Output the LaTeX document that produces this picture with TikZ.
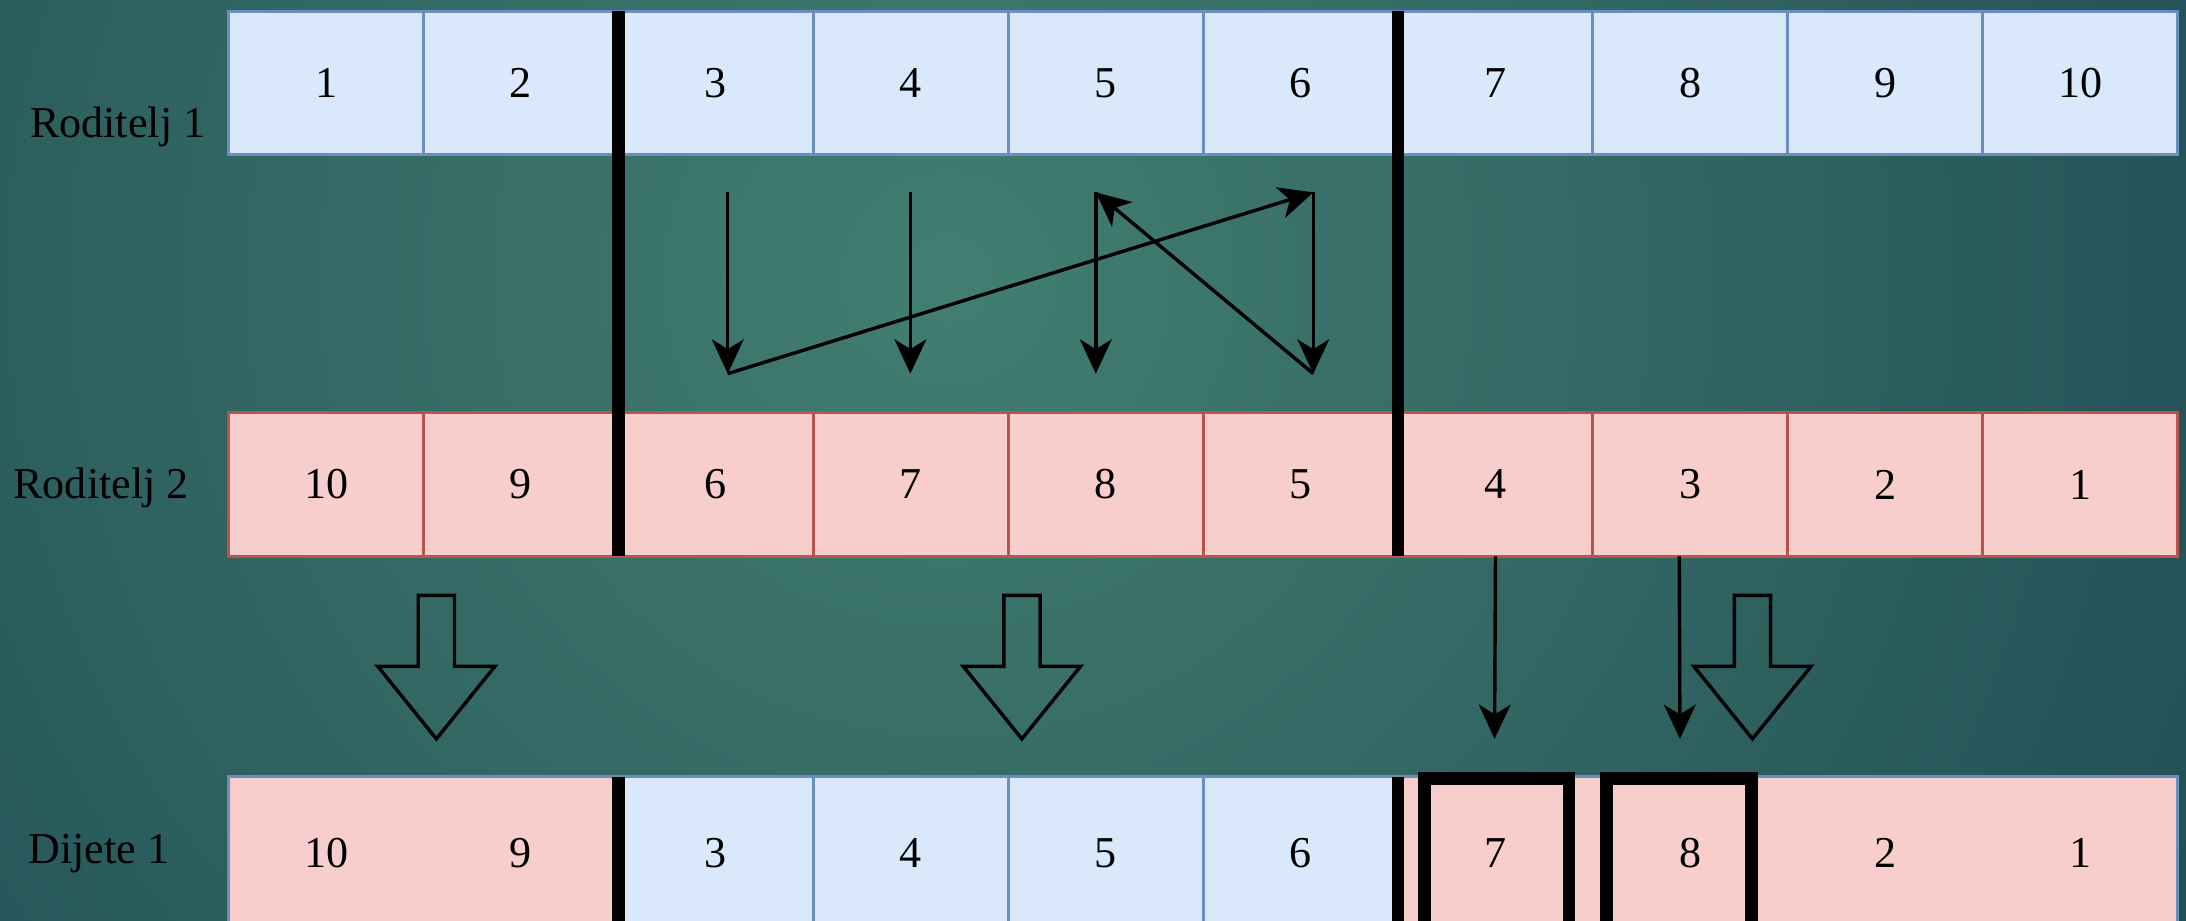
\documentclass[tikz,border=0pt]{standalone}
\usepackage{fontspec}
\setmainfont{Liberation Serif}
\usetikzlibrary{arrows.meta}

\definecolor{cellblue}{HTML}{DAE8FC}
\definecolor{lineblue}{HTML}{6C8EBF}
\definecolor{cellpink}{HTML}{F8CECC}
\definecolor{linepink}{HTML}{B85450}
\definecolor{bginner}{RGB}{66,126,113}
\definecolor{bgouter}{RGB}{18,56,72}

\tikzset{
	cell/.style={minimum width=1.398cm, minimum height=1.03cm, inner sep=0pt, outer sep=0pt, font=\fontsize{9}{11}\selectfont},
	bluecell/.style={cell, fill=cellblue, draw=lineblue, line width=0.6pt},
	pinkcell/.style={cell, fill=cellpink, draw=linepink, line width=0.6pt},
	pinkfill/.style={cell, fill=cellpink},
	rowlabel/.style={inner sep=0pt, font=\fontsize{9}{11}\selectfont},
	cut/.style={line width=2.6pt},
	move/.style={-{Stealth[length=7pt,width=6.5pt,inset=2pt]}, line width=0.7pt},
	hollow arrow/.pic={
		\draw[line width=0.7pt] (-0.13,0) -- (-0.13,-0.51) -- (-0.42,-0.51) -- (0,-1.03)
			-- (0.42,-0.51) -- (0.13,-0.51) -- (0.13,0) -- cycle;
	}
}

\begin{document}
\begin{tikzpicture}
	\useasboundingbox (0,0) rectangle (15.68,6.6);
	% background
	\begin{scope}
		\clip (0,0) rectangle (15.68,6.6);
		\fill[bgouter] (0,0) rectangle (15.68,6.6);
		\shade[inner color=bginner, outer color=bgouter] (6.8,4.6) circle (15);
	\end{scope}

	% parents
	\foreach \v [count=\i] in {1,2,3,4,5,6,7,8,9,10}
		\node[bluecell] (a\i) at ({1.64+1.398*(\i-0.5)},6.005) {\v};
	\foreach \v [count=\i] in {10,9,6,7,8,5,4,3,2,1}
		\node[pinkcell] (b\i) at ({1.64+1.398*(\i-0.5)},3.125) {\v};

	% child
	\foreach \v/\s [count=\i] in {10/pinkfill,9/pinkfill,3/bluecell,4/bluecell,5/bluecell,6/bluecell,7/pinkfill,8/pinkfill,2/pinkfill,1/pinkfill}
		\node[\s, minimum height=1.1cm] (c\i) at ({1.64+1.398*(\i-0.5)},0.48) {\v};
	\draw[lineblue, line width=0.6pt] (c1.north west) rectangle (c10.south east);

	\node[rowlabel] (l1) at (0.845,5.69) {Roditelj 1};
	\node[rowlabel] (l2) at (0.725,3.10) {Roditelj 2};
	\node[rowlabel] (l3) at (0.71,0.48) {Dijete 1};

	% cut points
	\draw[cut] (a2.north east) -- (b2.south east);
	\draw[cut] (a6.north east) -- (b6.south east);
	\draw[cut] (c2.north east) -- (c2.south east);
	\draw[cut] (c6.north east) -- (c6.south east);

	% mapping between the sections
	\coordinate (t3) at (5.22,5.22);
	\coordinate (t4) at (6.53,5.22);
	\coordinate (t5) at (7.86,5.22);
	\coordinate (t6) at (9.42,5.22);
	\coordinate (u3) at (5.22,3.92);
	\coordinate (u4) at (6.53,3.92);
	\coordinate (u5) at (7.86,3.92);
	\coordinate (u6) at (9.42,3.92);
	\foreach \i in {3,4,5,6}
		\draw[move] (t\i) -- (u\i);
	\draw[move] (u3) -- (t6);
	\draw[move] (u6) -- (t5);

	\coordinate (d7) at (10.72,1.30);
	\coordinate (d8) at (12.05,1.30);
	\draw[move] (b7.south) -- (d7);
	\draw[move] ([xshift=-0.08cm]b8.south) -- (d8);

	% copied parts
	\pic at (3.13,2.33) {hollow arrow};
	\pic at (7.33,2.33) {hollow arrow};
	\pic at (12.57,2.33) {hollow arrow};

	% filled from parent 2
	\draw[cut] (10.215,1.015) rectangle (11.255,-0.1);
	\draw[cut] (11.525,1.015) rectangle (12.565,-0.1);
\end{tikzpicture}
\end{document}
